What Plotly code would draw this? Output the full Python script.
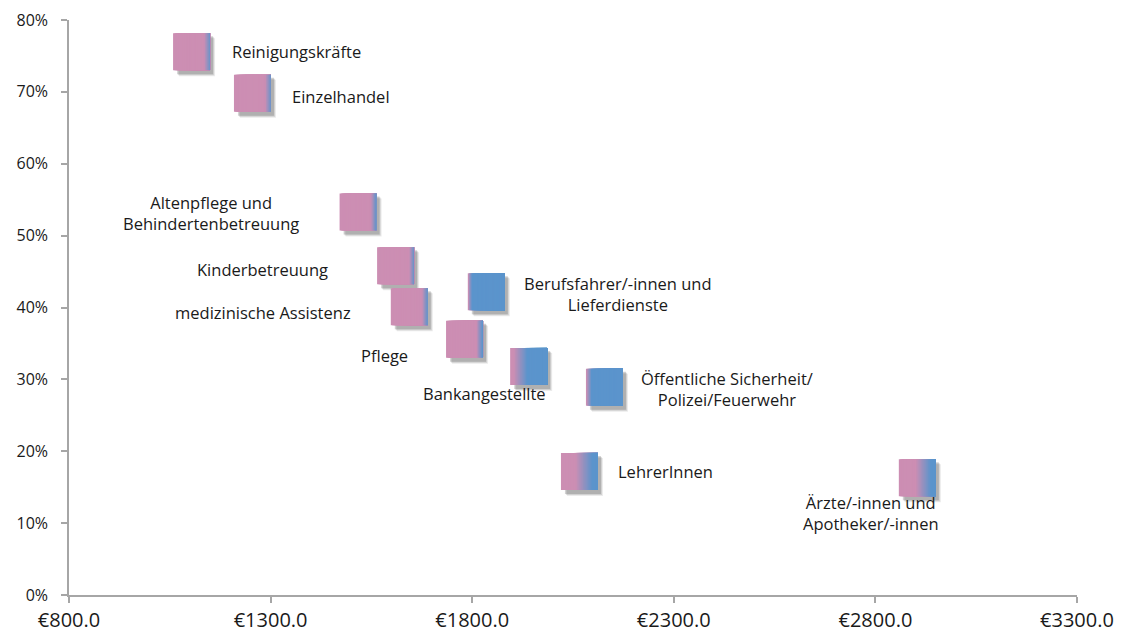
import plotly.graph_objects as go

# ---- data ----
occupations = [
    "Reinigungskräfte", "Einzelhandel", "Altenpflege und<br>Behindertenbetreuung",
    "Kinderbetreuung", "medizinische Assistenz", "Pflege",
    "Berufsfahrer/-innen und<br>Lieferdienste", "Bankangestellte",
    "Öffentliche Sicherheit/<br>Polizei/Feuerwehr", "LehrerInnen",
    "Ärzte/-innen und<br>Apotheker/-innen",
]
income_eur = [1104, 1255, 1517, 1610, 1644, 1781, 1835, 1940, 2128, 2066, 2904]
low_wage_share = [0.756, 0.698, 0.533, 0.458, 0.401, 0.356, 0.422, 0.318, 0.289, 0.172, 0.163]
female_fraction = [0.93, 0.93, 0.92, 0.94, 0.92, 0.90, 0.06, 0.28, 0.08, 0.62, 0.66]
blend_width = [0.18, 0.18, 0.16, 0.14, 0.16, 0.16, 0.10, 0.36, 0.14, 0.45, 0.40]

x_ticks = [800, 1300, 1800, 2300, 2800, 3300]
x_tick_labels = ["€800.0", "€1300.0", "€1800.0", "€2300.0", "€2800.0", "€3300.0"]
y_ticks = [0, 0.1, 0.2, 0.3, 0.4, 0.5, 0.6, 0.7, 0.8]
y_tick_labels = ["0%", "10%", "20%", "30%", "40%", "50%", "60%", "70%", "80%"]

# ---- style ----
PINK = (204, 142, 179)
BLUE = (91, 148, 204)
W_PX, H_PX = 1114, 625          # page body has an 8px margin
M_L, M_R, M_T, M_B = 61, 45, 12, 38
X_RANGE = [800, 3300]
Y_RANGE = [0, 0.8]
SQ = 37  # square side in px
plot_w = W_PX - M_L - M_R
plot_h = H_PX - M_T - M_B
dx = SQ * (X_RANGE[1] - X_RANGE[0]) / plot_w
dy = SQ * (Y_RANGE[1] - Y_RANGE[0]) / plot_h
px_x = (X_RANGE[1] - X_RANGE[0]) / plot_w
px_y = (Y_RANGE[1] - Y_RANGE[0]) / plot_h

label_pos = [  # xanchor, xshift, yshift
    ("left", 38, 0), ("left", 38, -3), ("right", -57, -1), ("right", -66, -4),
    ("right", -56, -6), ("center", -80, -16), ("left", 36, -2),
    ("center", -44, -27), ("left", 35, -2), ("left", 37, 0), ("center", -46, -35),
]
TEXT_FONT = "Open Sans, Noto Sans, sans-serif"


def mix(t):
    c = [round(PINK[k] + (BLUE[k] - PINK[k]) * t) for k in range(3)]
    return f"rgb({c[0]},{c[1]},{c[2]})"


shapes = []
# soft shadows
for x, y in zip(income_eur, low_wage_share):
    for off, op in [(6, 0.10), (5, 0.15), (4, 0.22)]:
        shapes.append(dict(type="rect", xref="x", yref="y", layer="above",
                           x0=x - dx / 2 + off * px_x, x1=x + dx / 2 + (off - 1) * px_x,
                           y0=y - dy / 2 - off * px_y, y1=y + dy / 2 - (off - 1) * px_y,
                           fillcolor=f"rgba(60,60,60,{op})", line=dict(width=0)))
# squares with horizontal pink->blue gradient
N = 30
for x, y, f, b in zip(income_eur, low_wage_share, female_fraction, blend_width):
    x0 = x - dx / 2
    for k in range(N):
        t = (k + 0.5) / N
        lo, hi = f - b / 2, f + b / 2
        if t <= lo:
            m = 0.0
        elif t >= hi:
            m = 1.0
        else:
            m = (t - lo) / (hi - lo)
        shapes.append(dict(type="rect", xref="x", yref="y", layer="above",
                           x0=x0 + k * dx / N, x1=x + dx / 2,
                           y0=y - dy / 2, y1=y + dy / 2,
                           fillcolor=mix(m), line=dict(width=0)))

fig = go.Figure()
fig.add_trace(go.Scatter(x=income_eur, y=low_wage_share, mode="markers",
                         marker=dict(size=SQ, symbol="square", opacity=0),
                         text=occupations, hoverinfo="text+x+y", showlegend=False))

annotations = []
for name, x, y, (xa, xs, ys) in zip(occupations, income_eur, low_wage_share, label_pos):
    annotations.append(dict(x=x, y=y, xref="x", yref="y", text=name, showarrow=False,
                            xanchor=xa, yanchor="middle", xshift=xs, yshift=ys,
                            align="center",
                            font=dict(family=TEXT_FONT, size=16.5, color="#1a1a1a")))

fig.update_layout(
    width=W_PX, height=H_PX,
    margin=dict(l=M_L, r=M_R, t=M_T, b=M_B, autoexpand=False),
    paper_bgcolor="white", plot_bgcolor="white",
    shapes=shapes, annotations=annotations,
    xaxis=dict(range=X_RANGE, tickvals=x_ticks, ticktext=x_tick_labels, automargin=False,
               showgrid=False, zeroline=False, showline=True, linecolor="#a6a6a6", linewidth=1.5,
               ticks="outside", ticklen=6, tickcolor="#a6a6a6", tickwidth=1.5,
               ticklabelstandoff=0, ticklabeloverflow="allow",
               tickfont=dict(family=TEXT_FONT, size=20, color="#1a1a1a")),
    yaxis=dict(range=Y_RANGE, tickvals=y_ticks, ticktext=y_tick_labels, automargin=False,
               showgrid=False, zeroline=False, showline=True, linecolor="#a6a6a6", linewidth=1.5,
               ticks="outside", ticklen=6, tickcolor="#a6a6a6", tickwidth=1.5,
               ticklabelstandoff=10, ticklabeloverflow="allow",
               tickfont=dict(family=TEXT_FONT, size=16, color="#1a1a1a")),
)

fig.write_html("out.html")
